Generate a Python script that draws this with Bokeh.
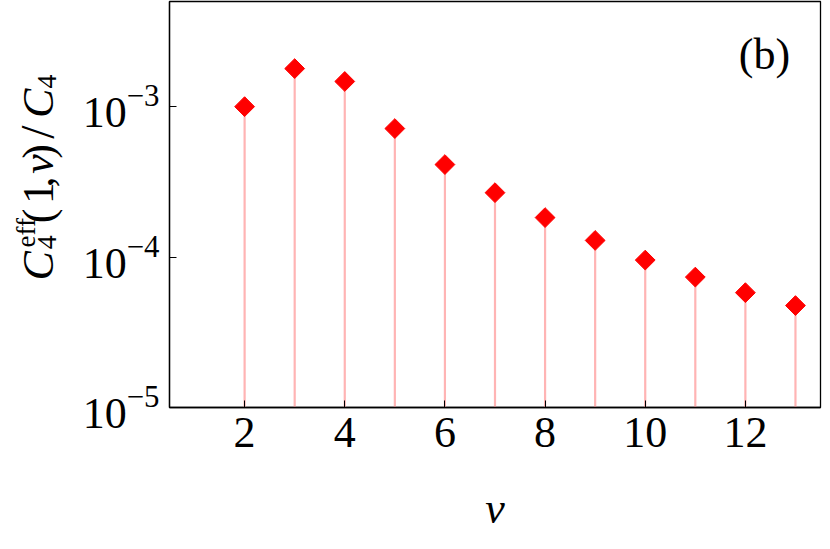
import math
from bokeh.plotting import figure
from bokeh.layouts import row, column
from bokeh.models import Range1d, FixedTicker, Label, LogTickFormatter
from bokeh.embed import file_html
from bokeh.resources import INLINE

# data
v = [2, 3, 4, 5, 6, 7, 8, 9, 10, 11, 12, 13]
ratio = [1.0e-3, 1.79e-3, 1.47e-3, 7.15e-4, 4.12e-4, 2.68e-4, 1.83e-4,
         1.29e-4, 9.55e-5, 7.36e-5, 5.8e-5, 4.76e-5]
x_ticks = [2, 4, 6, 8, 10, 12]
y_ticks = [1e-5, 1e-4, 1e-3]
Y_MIN, Y_MAX = 1e-5, 5e-3
X_MIN, X_MAX = 0.5, 13.5

FONT = "Liberation Serif"
MID = 0.3375               # baseline offset below the "middle" of the text box (em)
LW = 68                    # left strip (y label)
BL, BR, BT, BB = 101, 2, 1, 60
FRAME_W, FRAME_H = 651, 406
MW = BL + FRAME_W + BR
MH = BT + FRAME_H + BB
TOTAL_W = LW + MW
BOT_H = 533 - MH


def strip(width, height, x0, y0):
    f = figure(width=width, height=height,
               x_range=Range1d(x0, x0 + width), y_range=Range1d(-(y0 + height), -y0),
               output_backend="svg", toolbar_location=None, title=None,
               x_axis_location=None, y_axis_location=None,
               min_border=0, min_border_left=0, min_border_right=0,
               min_border_top=0, min_border_bottom=0)
    f.grid.visible = False
    f.outline_line_color = None
    f.background_fill_color = "white"
    f.border_fill_color = "white"
    return f


def put(f, txt, style, size, base_x, start_y, rotated=True):
    """Rotated pieces: base_x = baseline page x, start_y = page y where the text
    starts. Otherwise: base_x = centre x, start_y = baseline page y."""
    off = MID * size
    if rotated:
        lx, ly, ang, align = base_x - off, -start_y, math.pi / 2, "left"
    else:
        lx, ly, ang, align = base_x, -(start_y - off), 0.0, "center"
    f.add_layout(Label(x=lx, y=ly, text=txt, angle=ang, text_align=align,
                       text_baseline="middle", text_font=FONT,
                       text_font_style=style, text_font_size=f"{size}px",
                       text_color="black"))


# ---- left strip: composite y-axis label  C_4^eff(1, v)/C_4 ----
lab = strip(LW, MH, 0, 0)
put(lab, "C", "italic", 44, 53, 321)
put(lab, "eff", "normal", 27, 35, 283)
put(lab, "4", "normal", 28, 56, 285)
put(lab, "(", "normal", 44, 53, 255)
put(lab, "1", "normal", 44, 53, 233)
put(lab, ",", "normal", 44, 53, 214)
put(lab, "v", "italic", 44, 53, 198)
put(lab, ")", "normal", 44, 53, 181)
put(lab, "/", "normal", 48, 53, 158)
put(lab, "C", "italic", 44, 53, 134)
put(lab, "4", "normal", 28, 56, 100)

# ---- main plot ----
p = figure(width=MW, height=MH, x_range=Range1d(X_MIN, X_MAX),
           y_range=Range1d(Y_MIN, Y_MAX), y_axis_type="log",
           output_backend="svg", toolbar_location=None,
           min_border_left=BL, min_border_right=BR,
           min_border_top=BT, min_border_bottom=BB)
p.background_fill_color = "white"
p.border_fill_color = "white"
p.outline_line_color = "black"
p.outline_line_width = 1.3
p.xgrid.visible = False
p.ygrid.visible = False

p.segment(x0=v, y0=[Y_MIN] * len(v), x1=v, y1=ratio,
          line_color="#ffb4b4", line_width=2.2)
p.scatter(v, ratio, marker="square", angle=math.pi / 4, size=14,
          fill_color="red", line_color="red")

for ax in (p.xaxis[0], p.yaxis[0]):
    ax.major_tick_in = 7
    ax.major_tick_out = 0
    ax.minor_tick_in = 0
    ax.minor_tick_out = 0
    ax.axis_line_color = "black"
    ax.axis_line_width = 1.3
    ax.major_tick_line_color = "black"
    ax.major_tick_line_width = 1
    ax.major_label_text_font = FONT
    ax.major_label_text_font_size = "44px"
    ax.major_label_text_color = "black"

p.xaxis.ticker = FixedTicker(ticks=x_ticks, minor_ticks=[])
p.yaxis.ticker = FixedTicker(ticks=y_ticks, minor_ticks=[])
p.yaxis.formatter = LogTickFormatter()
p.xaxis.major_label_standoff = 10
p.yaxis.major_label_standoff = 10

p.add_layout(Label(x=764 - (LW + BL), y=(BT + FRAME_H) - 54,
                   x_units="screen", y_units="screen",
                   text="(b)", text_align="center", text_baseline="middle",
                   text_font=FONT, text_font_size="44px", text_color="black"))

# ---- bottom strip: x-axis label ----
bot = strip(TOTAL_W, BOT_H, 0, MH)
put(bot, "v", "italic", 44, LW + BL + FRAME_W / 2, 523, rotated=False)

layout = column(row(lab, p, spacing=0), bot, spacing=0)
open("out.html", "w").write(file_html(layout, INLINE))
